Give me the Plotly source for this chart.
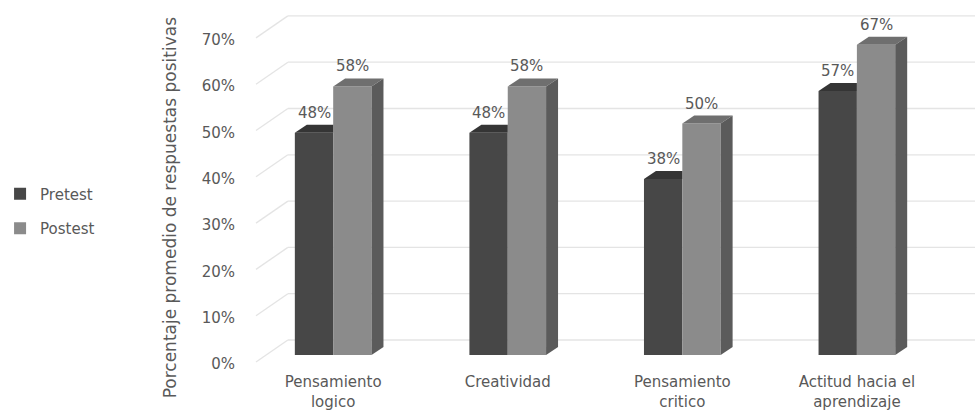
import plotly.graph_objects as go

# ---------------- data ----------------
categories = ["Pensamiento<br>logico", "Creatividad", "Pensamiento<br>critico", "Actitud hacia el<br>aprendizaje"]
pretest = [0.48, 0.48, 0.38, 0.57]
postest = [0.58, 0.58, 0.50, 0.67]
pretest_labels = ["48%", "48%", "38%", "57%"]
postest_labels = ["58%", "58%", "50%", "67%"]
y_tickvals = [0.0, 0.1, 0.2, 0.3, 0.4, 0.5, 0.6, 0.7]
y_ticktext = ["0%", "10%", "20%", "30%", "40%", "50%", "60%", "70%"]
series_names = ["Pretest", "Postest"]
y_title = "Porcentaje promedio de respuestas positivas"

# ---------------- layout constants ----------------
W, H = 975, 412
ML, MR, MT, MB = 253, 0, 12, 48
plot_w = W - ML - MR
plot_h = H - MT - MB
X_PX_PER_CAT = 175.3
X_CENTER0_PX = 330.5
Y_PX_PER_UNIT = 463.0
Y0_PX = 355.0
x_range = [(ML - X_CENTER0_PX) / X_PX_PER_CAT, (W - MR - X_CENTER0_PX) / X_PX_PER_CAT]
y_range = [-((H - MB) - Y0_PX) / Y_PX_PER_UNIT, (Y0_PX - MT) / Y_PX_PER_UNIT]

BAR_W = 38.5 / X_PX_PER_CAT
DX = 12.0 / X_PX_PER_CAT
DY = 8.0 / Y_PX_PER_UNIT

PRE_FRONT = "#474747"
PRE_TOP = "#353535"
POST_FRONT = "#8b8b8b"
POST_TOP = "#6f6f6f"
POST_SIDE = "#5b5b5b"
GRID = "#e4e4e4"
TEXT = "#595959"
FONT = "DejaVu Sans"
FS = 15

xs = list(range(len(categories)))

fig = go.Figure()
fig.add_trace(go.Bar(x=xs, y=pretest, name=series_names[0], offset=-BAR_W, width=BAR_W,
                     marker=dict(color=PRE_FRONT, line=dict(width=0)), legendgroup="a",
                     hoverinfo="skip"))
fig.add_trace(go.Bar(x=xs, y=postest, name=series_names[1], offset=0, width=BAR_W,
                     marker=dict(color=POST_FRONT, line=dict(width=0)), legendgroup="b",
                     hoverinfo="skip"))

shapes = []
# back-wall gridlines with floor diagonals
diag_end = (285 - ML) / plot_w
for v in y_tickvals:
    shapes.append(dict(type="line", xref="paper", yref="y", ysizemode="pixel", yanchor=v,
                       x0=0, x1=diag_end, y0=-7, y1=15, layer="below",
                       line=dict(color=GRID, width=1.3)))
    shapes.append(dict(type="line", xref="paper", yref="y", ysizemode="pixel", yanchor=v,
                       x0=diag_end, x1=1, y0=15, y1=15, layer="below",
                       line=dict(color=GRID, width=1.3)))


def poly(pts):
    return "M " + " L ".join(f"{px},{py}" for px, py in pts) + " Z"


for i, (p, q) in enumerate(zip(pretest, postest)):
    xl, xm, xr = i - BAR_W, i, i + BAR_W
    # pretest top (visible part)
    shapes.append(dict(type="path", xref="x", yref="y", layer="above", fillcolor=PRE_TOP,
                       line=dict(width=0),
                       path=poly([(xl, p), (xm, p), (xm, p + DY), (xl + DX, p + DY)])))
    # postest top
    shapes.append(dict(type="path", xref="x", yref="y", layer="above", fillcolor=POST_TOP,
                       line=dict(width=0),
                       path=poly([(xm, q), (xr, q), (xr + DX, q + DY), (xm + DX, q + DY)])))
    # postest side
    shapes.append(dict(type="path", xref="x", yref="y", layer="above", fillcolor=POST_SIDE,
                       line=dict(width=0),
                       path=poly([(xr, 0), (xr, q), (xr + DX, q + DY), (xr + DX, DY)])))

annotations = []
for i, (p, q) in enumerate(zip(pretest, postest)):
    annotations.append(dict(x=i - BAR_W / 2, y=p, xref="x", yref="y", text=pretest_labels[i],
                            showarrow=False, yshift=20, font=dict(family=FONT, size=FS, color=TEXT)))
    annotations.append(dict(x=i + BAR_W / 2, y=q, xref="x", yref="y", text=postest_labels[i],
                            showarrow=False, yshift=20, font=dict(family=FONT, size=FS, color=TEXT)))

annotations.append(dict(x=(167 - ML) / plot_w, y=((H - MB) - 207) / plot_h, xref="paper", yref="paper",
                        xanchor="center", yanchor="middle",
                        text=y_title, textangle=-90, showarrow=False,
                        font=dict(family=FONT, size=17, color=TEXT)))

fig.update_layout(
    width=W, height=H,
    margin=dict(l=ML, r=MR, t=MT, b=MB, pad=0),
    paper_bgcolor="white", plot_bgcolor="white",
    barmode="overlay",
    shapes=shapes,
    annotations=annotations,
    font=dict(family=FONT, size=FS, color=TEXT),
    xaxis=dict(range=x_range, tickvals=xs, ticktext=categories, showgrid=False, zeroline=False,
               showline=False, ticks="", ticklabelstandoff=7,
               tickfont=dict(family=FONT, size=FS, color=TEXT)),
    yaxis=dict(range=y_range, tickvals=y_tickvals, ticktext=y_ticktext, showgrid=False,
               zeroline=False, showline=False, ticks="", ticklabelshift=9, ticklabelstandoff=20,
               tickfont=dict(family=FONT, size=FS, color=TEXT)),
    legend=dict(x=(-4 - ML) / plot_w, xanchor="left", y=((H - MB) - 211) / plot_h, yanchor="middle",
                font=dict(family=FONT, size=FS, color=TEXT), tracegroupgap=12,
                traceorder="grouped", bgcolor="rgba(0,0,0,0)"),
    showlegend=True,
)

fig.write_html("out.html")
